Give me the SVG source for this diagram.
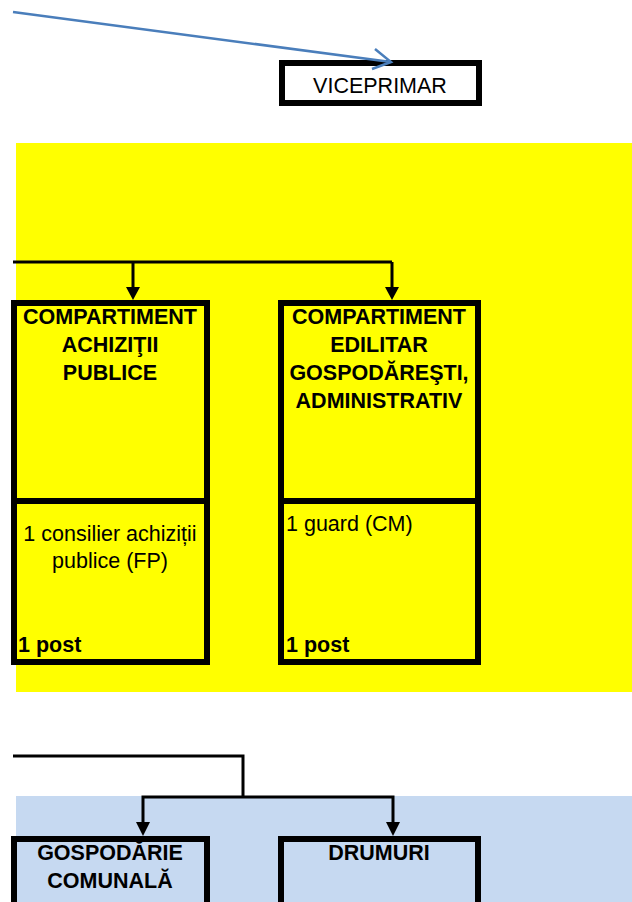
<svg xmlns="http://www.w3.org/2000/svg" width="632" height="902" viewBox="0 0 632 902">
<style>
.box{fill:none;stroke:#000;stroke-width:6}
.conn{fill:none;stroke:#000;stroke-width:3}
.blue{fill:none;stroke:#4A7EBB;stroke-width:2.5}
.t{font-family:"Liberation Sans",Arial,sans-serif;font-size:21.5px;fill:#000}
.b{font-weight:bold}
</style>
<rect width="632" height="902" fill="#fff"/>
<rect x="16" y="143" width="616" height="549" fill="#FFFF00"/>
<rect x="16" y="796" width="616" height="106" fill="#C6D9F1"/>

<g id="viceprimar">
<rect x="282" y="63" width="197" height="40" fill="#fff" stroke="#000" stroke-width="6"/>
<text class="t" x="380" y="93" text-anchor="middle">VICEPRIMAR</text>
</g>

<g id="connectors">
<path class="blue" d="M13,12 L391,62"/>
<path class="blue" d="M375,49 L391,62 L372,69"/>
<path class="conn" d="M13,262 L392,262"/>
<path class="conn" d="M133,262 L133,288"/>
<path d="M126,287 L140,287 L133,300 Z" fill="#000"/>
<path class="conn" d="M392,262 L392,288"/>
<path d="M385,287 L399,287 L392,300 Z" fill="#000"/>
<path class="conn" d="M13,756 L243,756 L243,797"/>
<path class="conn" d="M143,823 L143,797 L393,797 L393,823"/>
<path d="M136,822 L150,822 L143,836 Z" fill="#000"/>
<path d="M386,822 L400,822 L393,836 Z" fill="#000"/>
</g>

<g id="achizitii">
<rect class="box" x="14" y="303" width="193" height="359"/>
<line x1="14" y1="501" x2="207" y2="501" stroke="#000" stroke-width="6"/>
<text class="t b" x="110" y="324" text-anchor="middle">COMPARTIMENT</text>
<text class="t b" x="110" y="352" text-anchor="middle">ACHIZIŢII</text>
<text class="t b" x="110" y="380" text-anchor="middle">PUBLICE</text>
<text class="t" x="110" y="541" text-anchor="middle">1 consilier achiziții</text>
<text class="t" x="110" y="568" text-anchor="middle">publice (FP)</text>
<text class="t b" x="18" y="652">1 post</text>
</g>

<g id="edilitar">
<rect class="box" x="281" y="303" width="197" height="359"/>
<line x1="281" y1="501" x2="478" y2="501" stroke="#000" stroke-width="6"/>
<text class="t b" x="379" y="324" text-anchor="middle">COMPARTIMENT</text>
<text class="t b" x="379" y="352" text-anchor="middle">EDILITAR</text>
<text class="t b" x="379" y="380" text-anchor="middle">GOSPODĂREŞTI,</text>
<text class="t b" x="379" y="408" text-anchor="middle">ADMINISTRATIV</text>
<text class="t" x="286" y="531">1 guard (CM)</text>
<text class="t b" x="286" y="652">1 post</text>
</g>

<g id="gospodarie">
<path class="box" d="M14,905 L14,839 L207,839 L207,905"/>
<text class="t b" x="110" y="860" text-anchor="middle">GOSPODĂRIE</text>
<text class="t b" x="110" y="888" text-anchor="middle">COMUNALĂ</text>
</g>

<g id="drumuri">
<path class="box" d="M281,905 L281,839 L478,839 L478,905"/>
<text class="t b" x="379" y="860" text-anchor="middle">DRUMURI</text>
</g>
</svg>
